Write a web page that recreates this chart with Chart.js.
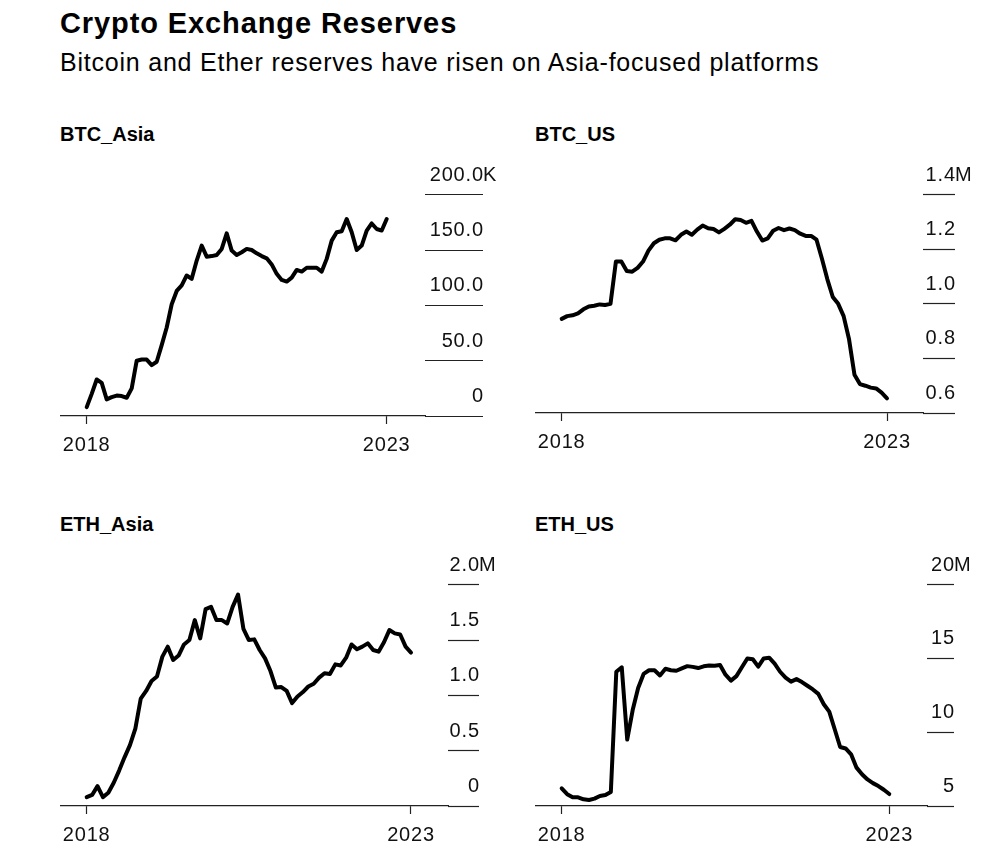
<!DOCTYPE html>
<html><head><meta charset="utf-8">
<script src="https://cdn.jsdelivr.net/npm/chart.js@4.4.0/dist/chart.umd.min.js"></script>
<style>
html,body{margin:0;padding:0;background:#fff;}
body{width:990px;height:864px;position:relative;overflow:hidden;font-family:"Liberation Sans",Arial,sans-serif;color:#000;}
.t{position:absolute;white-space:nowrap;line-height:1;}
#title{left:60px;top:8.8px;font-size:29px;font-weight:bold;letter-spacing:0.9px;}
#sub{left:60px;top:49.5px;font-size:25px;letter-spacing:0.78px;}
.pt{font-size:20px;font-weight:bold;}
canvas{position:absolute;}
</style></head>
<body>
<div id="title" class="t">Crypto Exchange Reserves</div>
<div id="sub" class="t">Bitcoin and Ether reserves have risen on Asia-focused platforms</div>
<div class="t pt" style="left:60px;top:123.8px">BTC_Asia</div>
<div class="t pt" style="left:535px;top:123.8px">BTC_US</div>
<div class="t pt" style="left:60px;top:513.8px">ETH_Asia</div>
<div class="t pt" style="left:535px;top:513.8px">ETH_US</div>
<canvas id="c1" width="445" height="307" style="left:60px;top:150px"></canvas>
<canvas id="c2" width="442" height="304" style="left:535px;top:150px"></canvas>
<canvas id="c3" width="441" height="307" style="left:60px;top:540px"></canvas>
<canvas id="c4" width="441" height="307" style="left:535px;top:540px"></canvas>
<script>
// ---- data (monthly) ----
const months = [
  "2018-01","2018-02","2018-03","2018-04","2018-05","2018-06","2018-07","2018-08","2018-09","2018-10","2018-11","2018-12",
  "2019-01","2019-02","2019-03","2019-04","2019-05","2019-06","2019-07","2019-08","2019-09","2019-10","2019-11","2019-12",
  "2020-01","2020-02","2020-03","2020-04","2020-05","2020-06","2020-07","2020-08","2020-09","2020-10","2020-11","2020-12",
  "2021-01","2021-02","2021-03","2021-04","2021-05","2021-06","2021-07","2021-08","2021-09","2021-10","2021-11","2021-12",
  "2022-01","2022-02","2022-03","2022-04","2022-05","2022-06","2022-07","2022-08","2022-09","2022-10","2022-11","2022-12",
  "2023-01"
];
// BTC on Asia-focused exchanges, thousands of BTC
const btcAsia = [8, 20, 33, 30, 15, 17, 18.5, 18, 16.5, 25,
  50, 51, 51, 46, 49, 64, 80, 101, 113, 118,
  127, 124, 140.5, 154, 144, 144.5, 145.5, 151, 165, 149.5,
  145.5, 148, 151, 150, 147, 144.5, 142.5, 137, 128.5, 123,
  121.5, 125, 132, 130.5, 134, 134, 134, 130.5, 142, 158.5,
  166, 167, 178, 166, 150, 154, 167.6, 174, 169, 167.6,
  178];
// BTC on US exchanges, millions of BTC
const btcUs = [0.945, 0.955, 0.958, 0.965, 0.98, 0.99, 0.993, 0.998, 0.996, 1.0,
  1.155, 1.155, 1.12, 1.118, 1.132, 1.155, 1.195, 1.222, 1.235, 1.24,
  1.24, 1.233, 1.253, 1.265, 1.253, 1.272, 1.287, 1.277, 1.274, 1.262,
  1.275, 1.29, 1.31, 1.307, 1.297, 1.304, 1.265, 1.232, 1.24, 1.268,
  1.278, 1.27, 1.276, 1.27, 1.257, 1.249, 1.249, 1.235, 1.165, 1.09,
  1.025, 1.0, 0.955, 0.87, 0.74, 0.706, 0.7, 0.693, 0.69, 0.675,
  0.654];
// ETH on Asia-focused exchanges, millions of ETH
const ethAsia = [0.08, 0.1, 0.18, 0.08, 0.12, 0.21, 0.32, 0.44, 0.55, 0.70,
  0.97, 1.04, 1.13, 1.17, 1.35, 1.44, 1.32, 1.36, 1.46, 1.5,
  1.68, 1.515, 1.78, 1.8, 1.68, 1.68, 1.65, 1.8, 1.91, 1.6,
  1.5, 1.506, 1.41, 1.334, 1.22, 1.07, 1.075, 1.04, 0.93, 0.99,
  1.03, 1.08, 1.105, 1.16, 1.2, 1.193, 1.28, 1.27, 1.34, 1.46,
  1.416, 1.44, 1.47, 1.41, 1.395, 1.48, 1.59, 1.56, 1.55, 1.44,
  1.386];
// ETH on US exchanges, millions of ETH
const ethUs = [6.2, 5.8, 5.59, 5.59, 5.45, 5.41, 5.5, 5.68, 5.74, 5.95,
  14.1, 14.4, 9.5, 11.5, 13.0, 13.95, 14.2, 14.2, 13.85, 14.3,
  14.2, 14.17, 14.33, 14.48, 14.43, 14.35, 14.47, 14.52, 14.5, 14.55,
  13.9, 13.5, 13.8, 14.4, 15.0, 14.95, 14.45, 15.0, 15.05, 14.65,
  14.1, 13.7, 13.43, 13.6, 13.4, 13.15, 12.9, 12.6, 11.9, 11.4,
  10.2, 9.0, 8.9, 8.5, 7.6, 7.15, 6.8, 6.55, 6.35, 6.1,
  5.81];
// tick labels
const xTicks = [2018, 2023];
const btcAsiaTicks = [0, 50, 100, 150, 200];
const btcUsTicks = [0.6, 0.8, 1.0, 1.2, 1.4];
const ethAsiaTicks = [0, 0.5, 1.0, 1.5, 2.0];
const ethUsTicks = [5, 10, 15, 20];

// ---- drawing ----
const FONT_FAMILY = '"Liberation Sans", Arial, sans-serif';
const TICK_FONT = {family: FONT_FAMILY, size: 20};
const INK = '#111', RULE = '#222';

function monthToYear(m) { const p = m.split('-').map(Number); return p[0] + (p[1] - 1) / 12; }

const textSpacing = {
  id: 'textSpacing',
  beforeDraw(chart) { chart.ctx.letterSpacing = '0.8px'; },
  afterDraw(chart) { chart.ctx.letterSpacing = '0px'; }
};

const unitSuffix = {
  id: 'unitSuffix',
  afterDraw(chart, args, opts) {
    const s = chart.scales.y, ctx = chart.ctx;
    ctx.save();
    ctx.font = TICK_FONT.size + 'px ' + FONT_FAMILY;
    ctx.fillStyle = INK;
    ctx.textAlign = 'left';
    ctx.textBaseline = 'middle';
    ctx.fillText(opts.text, s.left + s.options.grid.tickLength, s.getPixelForValue(s.max) + s.options.ticks.labelOffset);
    ctx.restore();
  }
};

function makePanel(id, values, yTicks, fmt, suffix, T, padR) {
  const padL = 26.7;
  const data = months.map((m, i) => ({x: monthToYear(m), y: values[i]}));
  new Chart(document.getElementById(id), {
    type: 'line',
    data: {datasets: [{data, borderColor: '#000', borderWidth: 4, pointRadius: 0, tension: 0,
      borderJoinStyle: 'round', borderCapStyle: 'round', fill: false}]},
    options: {
      responsive: false, animation: false, events: [],
      layout: {padding: {top: 44.7, left: 0, right: 0, bottom: 0}},
      plugins: {legend: {display: false}, tooltip: {enabled: false}, title: {display: false}, unitSuffix: {text: suffix}},
      scales: {
        x: {
          type: 'linear', position: 'bottom', bounds: 'data',
          afterDataLimits(s) {
            const ppy = (s.width - padL - padR) / (xTicks[1] - xTicks[0]);
            s.min = xTicks[0] - padL / ppy;
            s.max = xTicks[1] + padR / ppy;
          },
          afterBuildTicks(s) { s.ticks = xTicks.map(v => ({value: v})); },
          afterFit(s) { s.height = 41; s.paddingLeft = 0; s.paddingRight = 0; },
          grid: {drawOnChartArea: false, drawTicks: true, tickLength: 8, tickColor: RULE, tickWidth: 1.2},
          border: {display: true, color: RULE, width: 1.2},
          ticks: {font: TICK_FONT, color: INK, padding: 9, maxRotation: 0, autoSkip: false, callback: v => String(v)}
        },
        y: {
          position: 'right', bounds: 'data', min: yTicks[0], max: yTicks[yTicks.length - 1],
          afterBuildTicks(s) { s.ticks = yTicks.map(v => ({value: v})); },
          afterFit(s) { s.width = T + 22; s.paddingTop = 0; s.paddingBottom = 0; },
          grid: {drawOnChartArea: false, drawTicks: true, tickLength: T, tickColor: RULE, tickWidth: 1.2},
          border: {display: false},
          ticks: {mirror: true, padding: T + 0.8, labelOffset: -19.5, font: TICK_FONT, color: INK, autoSkip: false, callback: fmt}
        }
      }
    },
    plugins: [textSpacing, unitSuffix]
  });
}

const fmtDec = v => (v === 0 ? '0' : Number(v).toFixed(1));
makePanel('c1', btcAsia, btcAsiaTicks, fmtDec, 'K', 58, 38.3);
makePanel('c2', btcUs, btcUsTicks, v => Number(v).toFixed(1), 'M', 32, 36);
makePanel('c3', ethAsia, ethAsiaTicks, fmtDec, 'M', 31, 37);
makePanel('c4', ethUs, ethUsTicks, v => String(v), 'M', 27, 37.7);
</script>
</body></html>
